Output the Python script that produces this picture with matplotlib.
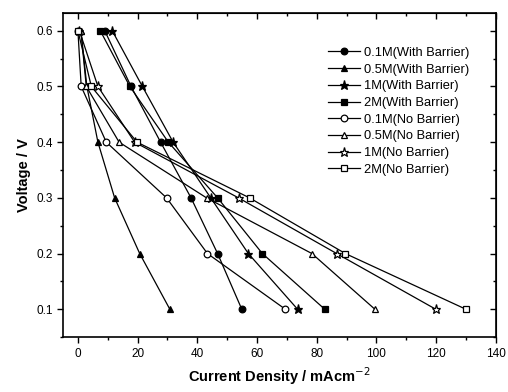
import matplotlib
matplotlib.use("Agg")
import matplotlib.pyplot as plt
from matplotlib.ticker import MultipleLocator

plt.rcParams["font.family"] = ["Liberation Sans", "DejaVu Sans"]

voltage = [0.6, 0.5, 0.4, 0.3, 0.2, 0.1]

# current density (mA/cm2) per series, read at each voltage
wb_01 = [9.0, 17.8, 27.7, 37.9, 46.8, 54.9]
wb_05 = [1.0, 3.0, 6.7, 12.3, 20.7, 30.8]
wb_1 = [11.5, 21.6, 31.9, 44.5, 57.1, 73.6]
wb_2 = [7.5, 17.4, 30.3, 46.8, 61.8, 82.7]
nb_01 = [0.0, 1.1, 9.5, 29.7, 43.4, 69.5]
nb_05 = [1.0, 2.8, 13.8, 43.1, 78.4, 99.5]
nb_1 = [0.5, 6.7, 19.0, 53.8, 86.7, 119.9]
nb_2 = [0.0, 4.5, 19.8, 57.5, 89.6, 130.0]

series = [
    (wb_01, "o", "k", "0.1M(With Barrier)"),
    (wb_05, "^", "k", "0.5M(With Barrier)"),
    (wb_1, "*", "k", "1M(With Barrier)"),
    (wb_2, "s", "k", "2M(With Barrier)"),
    (nb_01, "o", "white", "0.1M(No Barrier)"),
    (nb_05, "^", "white", "0.5M(No Barrier)"),
    (nb_1, "*", "white", "1M(No Barrier)"),
    (nb_2, "s", "white", "2M(No Barrier)"),
]

fig = plt.figure(figsize=(5.08, 3.92), dpi=100)
ax = fig.add_axes([0.124, 0.140, 0.852, 0.827])

for xs, marker, face, label in series:
    size = 6.5 if marker == "*" else 4.8
    ax.plot(xs, voltage, color="k", linewidth=0.9, marker=marker,
            markersize=size, markerfacecolor=face, markeredgecolor="k",
            markeredgewidth=0.9, label=label)

ax.set_xlim(-5, 140)
ax.set_ylim(0.05, 0.632)
ax.xaxis.set_major_locator(MultipleLocator(20))
ax.xaxis.set_minor_locator(MultipleLocator(10))
ax.yaxis.set_major_locator(MultipleLocator(0.1))
ax.yaxis.set_minor_locator(MultipleLocator(0.05))
ax.tick_params(which="both", direction="out", labelsize=8.5, width=1)
ax.tick_params(which="major", length=4)
ax.tick_params(which="minor", length=2.5)
# inward ticks on top and right, like the original
ax2 = ax.secondary_xaxis("top")
ax2.xaxis.set_major_locator(MultipleLocator(20))
ax2.xaxis.set_minor_locator(MultipleLocator(10))
ax2.tick_params(which="both", direction="in", labeltop=False, width=1)
ax2.tick_params(which="major", length=4)
ax2.tick_params(which="minor", length=2.5)
ay2 = ax.secondary_yaxis("right")
ay2.yaxis.set_major_locator(MultipleLocator(0.1))
ay2.yaxis.set_minor_locator(MultipleLocator(0.05))
ay2.tick_params(which="both", direction="in", labelright=False, width=1)
ay2.tick_params(which="major", length=4)
ay2.tick_params(which="minor", length=2.5)
for sp in ax.spines.values():
    sp.set_linewidth(1.2)

ax.set_xlabel("Current Density / mAcm$^{-2}$", fontsize=10.5, fontweight="bold")
ax.set_ylabel("Voltage / V", fontsize=10.5, fontweight="bold")

ax.legend(loc="upper left", bbox_to_anchor=(0.612, 0.895), frameon=False,
          fontsize=9.3, handlelength=2.5, handletextpad=0.3,
          labelspacing=0.36, borderpad=0, borderaxespad=0)

fig.savefig("out.png", dpi=100)
